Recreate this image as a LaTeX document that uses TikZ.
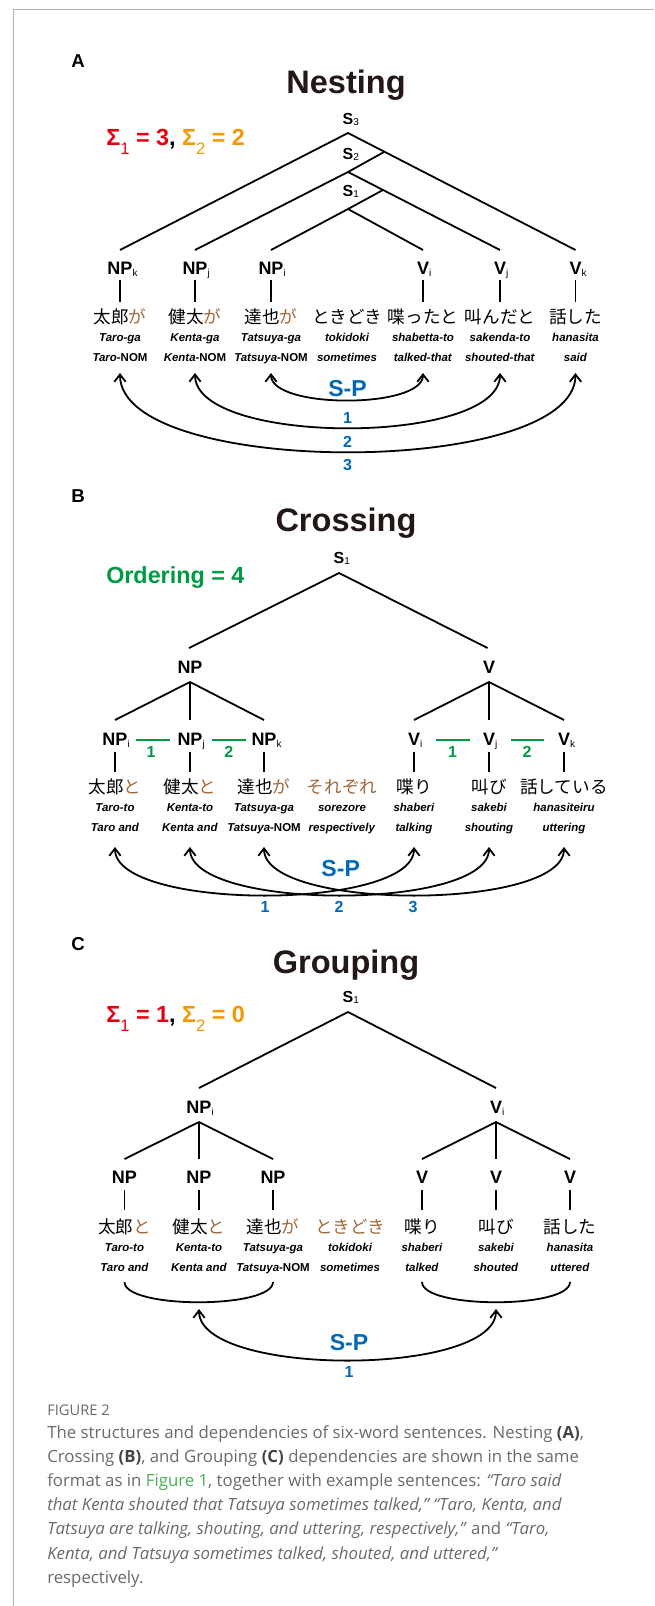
\documentclass[tikz,border=0pt]{standalone}
\usepackage{fontspec}
\setmainfont{Liberation Sans}
\newfontfamily\jpf{Noto Sans CJK JP}
\newfontfamily\capf{Open Sans}
\usetikzlibrary{arrows.meta}
\definecolor{brn}{HTML}{A0693C}
\definecolor{sred}{HTML}{E60012}
\definecolor{sorg}{HTML}{F39800}
\definecolor{spb}{HTML}{0068B7}
\definecolor{grn}{HTML}{009944}
\definecolor{ttlc}{HTML}{231815}
\definecolor{frm}{HTML}{B0B0B0}
\definecolor{capg}{HTML}{6A6A6A}
\definecolor{capd}{HTML}{444444}
\definecolor{figg}{HTML}{4CAF50}
\newcommand{\pbr}[1]{\textcolor{brn}{#1}}
\newcommand{\lsub}[1]{\rlap{\raisebox{-0.12em}{\normalfont\fontsize{7.5}{8}\selectfont #1}}}
\newcommand{\gsub}[1]{\raisebox{-0.42em}{\normalfont\fontsize{12.5}{13}\selectfont #1}}
\newcommand{\wcol}[6]{%
  \node[jp] (#1j) at (#2,#3) {#4};
  \node[rom] (#1r) at (#2,#3+18) {#5};
  \node[gl] (#1g) at (#2,#3+38.5) {#6};}
\begin{document}
\begin{tikzpicture}[x=0.75pt,y=-0.75pt,
 tl/.style={line width=1.35pt},
 arc/.style={line width=1.35pt,{Straight Barb[length=5.5pt,width=8.5pt]}-{Straight Barb[length=5.5pt,width=8.5pt]}},
 lab/.style={inner sep=0pt,anchor=base,font=\fontsize{13.5}{14}\selectfont\bfseries},
 slab/.style={inner sep=0pt,anchor=base,font=\fontsize{12}{13}\selectfont\bfseries},
 jp/.style={inner sep=0pt,anchor=base,font=\jpf\fontsize{13.2}{14}\selectfont},
 rom/.style={inner sep=0pt,anchor=base,font=\fontsize{8.6}{9}\selectfont\bfseries\itshape},
 gl/.style={inner sep=0pt,anchor=base,font=\fontsize{8.6}{9}\selectfont\bfseries},
 ttl/.style={inner sep=0pt,anchor=base,text=ttlc,font=\fontsize{24.4}{26}\selectfont\bfseries},
 plet/.style={inner sep=0pt,anchor=base,font=\fontsize{14}{15}\selectfont\bfseries},
 sp/.style={inner sep=0pt,anchor=base,text=spb,font=\fontsize{17.3}{18}\selectfont\bfseries},
 num/.style={inner sep=0pt,anchor=base,text=spb,font=\fontsize{12}{13}\selectfont\bfseries},
 gnum/.style={inner sep=0pt,anchor=base,text=grn,font=\fontsize{12}{13}\selectfont\bfseries},
 gline/.style={draw=grn,line width=0.9pt},
 sig/.style={inner sep=0pt,anchor=base west,font=\fontsize{17.5}{18}\selectfont\bfseries},
 captxt/.style={inner sep=0pt,anchor=base west,text=capg,font=\capf\fontsize{12.6}{15}\selectfont},
]
\fill[white] (0,0) rectangle (654,1606);
\useasboundingbox (0,0) rectangle (654,1606);
\draw[frm,line width=1.1pt] (13.3,1606) -- (13.3,9.5) -- (654,9.5);

% ================= Panel A =================
\node[plet] (lA) at (78,67) {A};
\node[ttl] (tA) at (346,93) {Nesting};
\node[sig] (sgA) at (106,145) {\textcolor{sred}{Σ\gsub{1} = 3}, \textcolor{sorg}{Σ\gsub{2} = 2}};
\node[slab] (S3) at (348,124) {S\lsub{3}};
\node[slab] (S2) at (348,159) {S\lsub{2}};
\node[slab] (S1a) at (348,196) {S\lsub{1}};
\coordinate (A3) at (348,133);
\coordinate (A2) at (348,172);
\coordinate (A1) at (348,209);
\coordinate (J2) at (384,152);
\coordinate (J1) at (383,190);
\coordinate (ek) at (120,250);
\coordinate (ej) at (195,250);
\coordinate (ei) at (271,250);
\coordinate (fi) at (423,250);
\coordinate (fj) at (500,250);
\coordinate (fk) at (575.5,250);
\draw[tl] (ek) -- (A3) -- (fk);
\draw[tl] (ej) -- (A2) -- (J2);
\draw[tl] (A2) -- (fj);
\draw[tl] (ei) -- (A1) -- (J1);
\draw[tl] (A1) -- (fi);
\node[lab] (aNPk) at (120,274.5) {NP\lsub{k}};
\node[lab] (aNPj) at (195,274.5) {NP\lsub{j}};
\node[lab] (aNPi) at (271,274.5) {NP\lsub{i}};
\node[lab] (aVi) at (423,274.5) {V\lsub{i}};
\node[lab] (aVj) at (500,274.5) {V\lsub{j}};
\node[lab] (aVk) at (575.5,274.5) {V\lsub{k}};
\foreach \n in {aNPk,aNPj,aNPi,aVi,aVj,aVk}{\draw[tl] (\n.base) +(0,5) -- +(0,27);}
\wcol{a1}{120}{323}{太郎\pbr{が}}{Taro-ga}{\textit{Taro}-NOM}
\wcol{a2}{195}{323}{健太\pbr{が}}{Kenta-ga}{\textit{Kenta}-NOM}
\wcol{a3}{271}{323}{達也\pbr{が}}{Tatsuya-ga}{\textit{Tatsuya}-NOM}
\wcol{a4}{347}{323}{ときどき}{tokidoki}{\textit{sometimes}}
\wcol{a5}{423}{323}{喋ったと}{shabetta-to}{\textit{talked-that}}
\wcol{a6}{500}{323}{叫んだと}{sakenda-to}{\textit{shouted-that}}
\wcol{a7}{575.5}{323}{話した}{hanasita}{\textit{said}}
\coordinate (ta1) at (120,373);
\coordinate (ta2) at (195,373);
\coordinate (ta3) at (271,373);
\coordinate (ta5) at (423,373);
\coordinate (ta6) at (500,373);
\coordinate (ta7) at (575.5,373);
\draw[arc] (ta3) .. controls +(0,36) and +(0,36) .. (ta5);
\draw[arc] (ta2) .. controls +(0,73) and +(0,73) .. (ta6);
\draw[arc] (ta1) .. controls +(0,105) and +(0,105) .. (ta7);
\node[sp] (spA) at (347.5,396.5) {S-P};
\node[num] (nA1) at (347.5,423.5) {1};
\node[num] (nA2) at (347.5,447) {2};
\node[num] (nA3) at (347.5,470) {3};

% ================= Panel B =================
\node[plet] (lB) at (78,502) {B};
\node[ttl] (tB) at (346,531.7) {Crossing};
\node[slab] (SB) at (339,563) {S\lsub{1}};
\node[sig,text=grn] (ord) at (106,583) {Ordering = 4};
\coordinate (B0) at (339,573);
\coordinate (Bl) at (189,648);
\coordinate (Br) at (487.5,648);
\draw[tl] (Bl) -- (B0) -- (Br);
\node[lab] (bNP) at (190,673) {NP};
\node[lab] (bV) at (489,673) {V};
\coordinate (Bn) at (190,682);
\coordinate (Bv) at (489,682);
\coordinate (bn1) at (115,720);
\coordinate (bn2) at (190,720);
\coordinate (bn3) at (264,720);
\coordinate (bv1) at (414,720);
\coordinate (bv2) at (489,720);
\coordinate (bv3) at (564,720);
\draw[tl] (bn1) -- (Bn) -- (bn3);
\draw[tl] (Bn) -- (bn2);
\draw[tl] (bv1) -- (Bv) -- (bv3);
\draw[tl] (Bv) -- (bv2);
\node[lab] (bNPi) at (115,745) {NP\lsub{i}};
\node[lab] (bNPj) at (190,745) {NP\lsub{j}};
\node[lab] (bNPk) at (264,745) {NP\lsub{k}};
\node[lab] (bVi) at (414,745) {V\lsub{i}};
\node[lab] (bVj) at (489,745) {V\lsub{j}};
\node[lab] (bVk) at (564,745) {V\lsub{k}};
\foreach \n in {bNPi,bNPj,bNPk,bVi,bVj,bVk}{\draw[tl] (\n.base) +(0,7) -- +(0,27);}
\coordinate (g1a) at (135.8,740); \coordinate (g1b) at (170,740);
\coordinate (g2a) at (211.5,740); \coordinate (g2b) at (246,740);
\coordinate (g3a) at (436,740); \coordinate (g3b) at (470,740);
\coordinate (g4a) at (511,740); \coordinate (g4b) at (544,740);
\draw[gline] (g1a) -- (g1b);
\draw[gline] (g2a) -- (g2b);
\draw[gline] (g3a) -- (g3b);
\draw[gline] (g4a) -- (g4b);
\node[gnum] (gn1) at (151,757) {1};
\node[gnum] (gn2) at (228.7,757) {2};
\node[gnum] (gn3) at (452.6,757) {1};
\node[gnum] (gn4) at (527,757) {2};
\wcol{b1}{115}{793}{太郎\pbr{と}}{Taro-to}{\textit{Taro and}}
\wcol{b2}{190}{793}{健太\pbr{と}}{Kenta-to}{\textit{Kenta and}}
\wcol{b3}{264}{793}{達也\pbr{が}}{Tatsuya-ga}{\textit{Tatsuya}-NOM}
\wcol{b4}{342}{793}{\pbr{それぞれ}}{sorezore}{\textit{respectively}}
\wcol{b5}{414}{793}{喋り}{shaberi}{\textit{talking}}
\wcol{b6}{489}{793}{叫び}{sakebi}{\textit{shouting}}
\wcol{b7}{564}{793}{話している}{hanasiteiru}{\textit{uttering}}
\coordinate (tb1) at (115,847);
\coordinate (tb2) at (190,847);
\coordinate (tb3) at (264,847);
\coordinate (tb5) at (414,847);
\coordinate (tb6) at (489,847);
\coordinate (tb7) at (564,847);
\draw[arc] (tb1) .. controls +(0,64) and +(0,64) .. (tb5);
\draw[arc] (tb2) .. controls +(0,64) and +(0,64) .. (tb6);
\draw[arc] (tb3) .. controls +(0,64) and +(0,64) .. (tb7);
\node[sp] (spB) at (340.7,876.5) {S-P};
\node[num] (nB1) at (265,912) {1};
\node[num] (nB2) at (339,912) {2};
\node[num] (nB3) at (413,912) {3};

% ================= Panel C =================
\node[plet] (lC) at (78,950) {C};
\node[ttl] (tC) at (346,973) {Grouping};
\node[slab] (SC) at (348,1002) {S\lsub{1}};
\node[sig] (sgC) at (106,1022) {\textcolor{sred}{Σ\gsub{1} = 1}, \textcolor{sorg}{Σ\gsub{2} = 0}};
\coordinate (C0) at (348,1012);
\coordinate (Cl) at (199,1088);
\coordinate (Cr) at (496,1088);
\draw[tl] (Cl) -- (C0) -- (Cr);
\node[lab] (cNPi) at (199,1113) {NP\lsub{i}};
\node[lab] (cVi) at (496,1113) {V\lsub{i}};
\coordinate (Cn) at (199,1122);
\coordinate (Cv) at (496,1122);
\coordinate (cn1) at (124.5,1159);
\coordinate (cn2) at (199,1159);
\coordinate (cn3) at (273,1159);
\coordinate (cv1) at (422,1159);
\coordinate (cv2) at (496,1159);
\coordinate (cv3) at (570,1159);
\draw[tl] (cn1) -- (Cn) -- (cn3);
\draw[tl] (Cn) -- (cn2);
\draw[tl] (cv1) -- (Cv) -- (cv3);
\draw[tl] (Cv) -- (cv2);
\node[lab] (cL1) at (124.5,1183) {NP};
\node[lab] (cL2) at (199,1183) {NP};
\node[lab] (cL3) at (273,1183) {NP};
\node[lab] (cL4) at (422,1183) {V};
\node[lab] (cL5) at (496,1183) {V};
\node[lab] (cL6) at (570,1183) {V};
\foreach \n in {cL1,cL2,cL3,cL4,cL5,cL6}{\draw[tl] (\n.base) +(0,7) -- +(0,27);}
\wcol{c1}{124.5}{1233}{太郎\pbr{と}}{Taro-to}{\textit{Taro and}}
\wcol{c2}{199}{1233}{健太\pbr{と}}{Kenta-to}{\textit{Kenta and}}
\wcol{c3}{273}{1233}{達也\pbr{が}}{Tatsuya-ga}{\textit{Tatsuya}-NOM}
\wcol{c4}{350}{1233}{\pbr{ときどき}}{tokidoki}{\textit{sometimes}}
\wcol{c5}{422}{1233}{喋り}{shaberi}{\textit{talked}}
\wcol{c6}{496}{1233}{叫び}{sakebi}{\textit{shouted}}
\wcol{c7}{570}{1233}{話した}{hanasita}{\textit{uttered}}
\coordinate (br1a) at (124.5,1282); \coordinate (br1b) at (273,1282);
\coordinate (br2a) at (422,1282); \coordinate (br2b) at (570,1282);
\draw[tl] (br1a) .. controls +(0,27) and +(0,27) .. (br1b);
\draw[tl] (br2a) .. controls +(0,27) and +(0,27) .. (br2b);
\coordinate (tc1) at (199,1309);
\coordinate (tc2) at (496,1309);
\draw[arc] (tc1) .. controls +(0,68) and +(0,68) .. (tc2);
\node[sp] (spC) at (349,1350.5) {S-P};
\node[num] (nC1) at (349,1377) {1};

% ================= Caption =================
\node[captxt,font=\capf\fontsize{11}{13}\selectfont] (fig) at (47,1415) {FIGURE 2};
\node[captxt] (c1) at (47,1438) {The structures and dependencies of six-word sentences. Nesting \textcolor{capd}{\textbf{(A)}},};
\node[captxt] (c2) at (47,1462.2) {Crossing \textcolor{capd}{\textbf{(B)}}, and Grouping \textcolor{capd}{\textbf{(C)}} dependencies are shown in the same};
\node[captxt] (c3) at (47,1486.4) {format as in \textcolor{figg}{Figure 1}, together with example sentences: \textit{“Taro said}};
\node[captxt] (c4) at (47,1510.6) {\textit{that Kenta shouted that Tatsuya sometimes talked,” “Taro, Kenta, and}};
\node[captxt] (c5) at (47,1534.8) {\textit{Tatsuya are talking, shouting, and uttering, respectively,”} and \textit{“Taro,}};
\node[captxt] (c6) at (47,1559) {\textit{Kenta, and Tatsuya sometimes talked, shouted, and uttered,”}};
\node[captxt] (c7) at (47,1583.2) {respectively.};
\end{tikzpicture}
\end{document}
